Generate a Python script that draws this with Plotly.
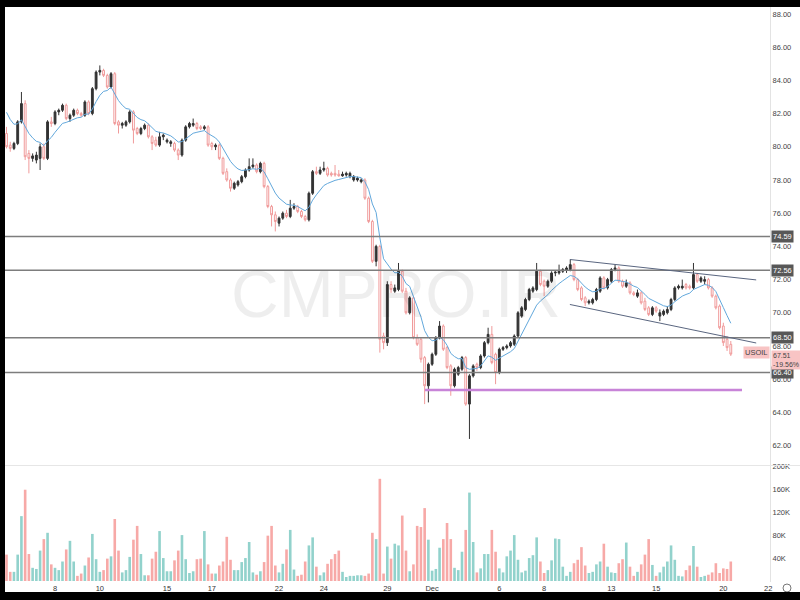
import plotly.graph_objects as go

# ---------------- data (4h bars, USOIL, Nov 3 - Dec 20) ----------------
opens = [80.8, 80.1, 79.9, 80.2, 81.5, 82.6, 79.6, 79.3, 79.2, 79.3,
         80.0, 79.3, 81.5, 81.4, 82.1, 82.2, 82.5, 81.7, 81.9, 82.2,
         82.0, 81.9, 82.7, 82.0, 83.5, 84.5, 84.6, 84.3, 83.6, 84.4,
         81.5, 81.3, 81.3, 81.5, 82.1, 81.1, 80.8, 81.1, 81.3, 80.6,
         80.4, 80.1, 80.6, 80.3, 80.2, 80.2, 79.8, 79.5, 80.4, 81.2,
         81.3, 81.4, 81.2, 81.1, 81.2, 80.2, 80.0, 80.1, 79.3, 78.5,
         78.0, 77.5, 77.7, 77.9, 78.2, 78.6, 78.8, 78.9, 78.5, 79.0,
         77.6, 76.4, 75.9, 75.4, 75.7, 76.0, 75.8, 76.3, 76.4, 76.1,
         75.8, 75.6, 77.2, 78.5, 78.4, 78.6, 78.7, 78.4, 78.4, 78.35,
         78.25, 78.3, 78.2, 78.0, 78.0, 77.9, 78.0, 76.9, 75.5, 73.1,
         74.0, 68.6, 68.2, 71.7, 71.3, 71.4, 72.5, 71.3, 70.0, 70.9,
         68.5, 68.4, 67.3, 65.6, 66.9, 67.5, 68.5, 69.2, 67.9, 66.8,
         65.6, 66.3, 66.6, 67.3, 64.5, 66.2, 66.9, 66.7, 67.4, 68.2,
         68.7, 67.5, 66.4, 67.8, 67.9, 68.0, 68.1, 68.6, 69.8, 70.2,
         70.8, 71.3, 71.4, 72.5, 71.9, 71.6, 71.9, 72.4, 72.4, 72.5,
         72.55, 72.6, 72.9, 72.0, 71.5, 70.9, 70.6, 70.6, 70.8, 71.3,
         72.1, 71.5, 71.9, 72.6, 72.7, 71.9, 71.6, 71.8, 71.2, 71.0,
         71.2, 70.7, 70.3, 69.9, 70.3, 69.8, 69.9, 70.0, 70.2, 70.8,
         71.5, 71.5, 71.7, 71.6, 71.5, 72.3, 71.9, 71.9, 72.0, 71.5,
         71.0, 70.4, 69.2, 68.4, 68.1]
highs = [81.2, 80.3, 80.3, 81.6, 83.3, 82.8, 79.8, 79.6, 79.7, 80.2,
         80.2, 81.6, 81.8, 82.2, 82.3, 82.6, 82.6, 82.0, 82.3, 82.3,
         82.1, 82.8, 82.8, 83.6, 84.6, 84.9, 84.7, 84.4, 84.5, 84.5,
         81.6, 81.5, 81.6, 82.2, 82.2, 81.2, 81.2, 81.4, 81.4, 80.7,
         80.6, 80.9, 80.8, 80.5, 80.4, 80.3, 79.9, 80.5, 81.3, 81.5,
         81.7, 81.5, 81.3, 81.3, 81.3, 80.3, 80.2, 80.2, 79.4, 78.7,
         78.1, 77.9, 78.0, 78.3, 78.7, 79.3, 79.3, 79.0, 79.1, 79.1,
         77.7, 76.5, 76.1, 75.8, 76.1, 76.2, 76.8, 76.6, 76.5, 76.2,
         75.9, 77.3, 78.6, 78.8, 78.8, 79.1, 78.8, 78.5, 78.9, 78.6,
         78.5, 78.5, 78.5, 78.3, 78.2, 78.1, 78.1, 77.0, 75.6, 74.1,
         74.1, 68.8, 71.9, 71.9, 71.7, 73.0, 72.6, 71.5, 71.0, 71.0,
         68.7, 68.5, 67.4, 67.0, 67.6, 68.6, 69.5, 69.3, 68.0, 66.9,
         66.7, 66.8, 67.4, 67.4, 66.3, 66.9, 67.0, 67.5, 68.3, 69.1,
         69.2, 67.6, 67.9, 68.0, 68.1, 68.3, 68.7, 70.1, 70.4, 70.9,
         71.5, 71.6, 73.0, 72.6, 72.0, 72.0, 72.5, 72.5, 72.9, 72.7,
         72.8, 73.2, 73.0, 72.1, 71.6, 71.0, 70.8, 70.9, 71.5, 72.2,
         72.2, 72.1, 72.7, 72.9, 72.8, 72.0, 72.0, 71.9, 71.3, 71.4,
         71.3, 70.9, 70.4, 70.4, 70.4, 70.2, 70.2, 70.4, 70.9, 71.6,
         71.7, 72.0, 71.8, 71.7, 73.0, 72.4, 72.2, 72.2, 72.1, 71.6,
         71.1, 70.5, 69.4, 68.6, 68.3]
lows = [79.9, 79.7, 79.8, 80.1, 81.4, 79.2, 78.4, 79.1, 79.0, 78.6,
        79.2, 79.2, 81.2, 81.3, 81.9, 82.1, 81.6, 81.5, 81.8, 81.9,
        81.8, 81.8, 81.9, 81.9, 83.4, 84.3, 84.2, 83.5, 83.5, 81.3,
        80.8, 81.1, 81.2, 81.4, 80.2, 80.7, 80.7, 81.0, 80.5, 79.8,
        80.0, 80.0, 80.4, 80.2, 80.0, 79.7, 79.2, 79.4, 80.3, 81.1,
        81.2, 81.0, 81.0, 81.0, 80.0, 79.8, 79.8, 79.2, 78.3, 77.9,
        77.3, 77.4, 77.6, 77.8, 78.1, 78.5, 78.7, 78.4, 78.4, 77.5,
        76.3, 75.2, 74.9, 75.2, 75.6, 75.7, 75.7, 76.2, 76.0, 75.7,
        75.5, 75.5, 77.1, 78.3, 78.3, 78.5, 78.2, 78.2, 78.2, 78.2,
        78.2, 78.2, 78.1, 77.9, 77.9, 77.8, 76.8, 75.4, 73.0, 72.8,
        67.6, 67.8, 68.0, 71.2, 71.2, 71.3, 71.2, 69.9, 69.9, 68.4,
        68.0, 67.0, 64.5, 64.6, 66.8, 67.4, 68.4, 67.7, 66.6, 65.0,
        65.5, 66.2, 66.5, 64.4, 62.4, 66.1, 66.5, 66.6, 67.3, 68.1,
        66.9, 65.7, 66.3, 67.7, 67.8, 67.9, 68.0, 68.5, 69.7, 70.1,
        70.7, 71.2, 71.3, 71.6, 71.0, 71.5, 71.8, 72.2, 72.3, 72.4,
        72.4, 72.5, 71.9, 71.3, 70.7, 70.4, 70.5, 70.5, 70.7, 71.2,
        71.4, 71.4, 71.8, 72.5, 71.8, 71.5, 71.5, 71.1, 71.0, 70.9,
        70.5, 70.1, 69.8, 69.8, 70.0, 69.5, 69.8, 69.9, 70.1, 70.7,
        71.4, 71.4, 71.4, 71.4, 71.4, 71.8, 71.8, 71.7, 71.4, 70.9,
        70.2, 69.0, 68.0, 67.7, 67.4]
closes = [80.0, 79.9, 80.2, 81.5, 82.6, 79.4, 79.3, 79.45, 79.5, 80.0,
          79.3, 81.5, 81.4, 82.1, 82.2, 82.5, 81.7, 81.9, 82.2, 82.0,
          81.9, 82.7, 82.0, 83.5, 84.5, 84.6, 84.3, 83.6, 84.4, 81.4,
          81.3, 81.4, 81.5, 82.1, 81.0, 80.8, 81.1, 81.3, 80.6, 80.2,
          80.1, 80.6, 80.7, 80.4, 80.3, 79.8, 79.5, 80.4, 81.2, 81.4,
          81.4, 81.1, 81.1, 81.2, 80.1, 80.0, 80.1, 79.3, 78.4, 78.0,
          77.5, 77.8, 77.9, 78.2, 78.6, 78.8, 78.9, 78.5, 79.0, 77.6,
          76.4, 75.9, 75.5, 75.7, 76.0, 75.8, 76.3, 76.4, 76.1, 75.8,
          75.6, 77.2, 78.5, 78.4, 78.6, 78.7, 78.3, 78.3, 78.3, 78.25,
          78.35, 78.4, 78.4, 78.2, 78.1, 78.0, 76.9, 75.5, 73.1, 74.0,
          68.4, 68.2, 71.7, 71.4, 71.5, 72.5, 71.3, 70.0, 70.9, 68.5,
          68.1, 67.2, 65.6, 66.9, 67.5, 68.5, 69.2, 67.8, 66.7, 65.6,
          66.6, 66.7, 67.3, 64.5, 66.2, 66.8, 66.7, 67.4, 68.2, 68.7,
          67.0, 66.4, 67.8, 67.9, 68.0, 68.2, 68.6, 70.0, 70.3, 70.8,
          71.4, 71.5, 72.5, 71.7, 71.6, 71.9, 72.4, 72.45, 72.5, 72.6,
          72.7, 72.9, 72.0, 71.4, 70.8, 70.6, 70.7, 70.8, 71.4, 72.1,
          71.5, 72.0, 72.6, 72.7, 71.9, 71.6, 71.8, 71.2, 71.1, 71.2,
          70.6, 70.2, 69.9, 70.3, 70.1, 70.0, 70.1, 70.2, 70.8, 71.5,
          71.6, 71.6, 71.5, 71.5, 72.3, 71.9, 72.1, 72.0, 71.5, 71.0,
          70.3, 69.1, 68.2, 67.9, 67.51]
volumes_k = [46, 16, 16, 46, 113, 159, 47, 23, 21, 53,
             73, 84, 29, 23, 19, 34, 55, 70, 34, 9,
             13, 27, 41, 82, 38, 16, 19, 39, 43, 108,
             53, 15, 19, 42, 72, 96, 47, 10, 10, 39,
             51, 87, 40, 17, 17, 36, 53, 80, 38, 14,
             17, 38, 39, 87, 29, 13, 13, 27, 34, 77,
             37, 19, 19, 33, 40, 68, 15, 11, 17, 33,
             79, 96, 27, 15, 30, 55, 89, 20, 9, 11,
             34, 62, 76, 25, 10, 15, 30, 38, 47, 53,
             16, 7, 9, 9, 10, 10, 9, 13, 84, 73,
             178, 13, 60, 39, 65, 62, 114, 53, 17, 29,
             96, 94, 127, 72, 18, 21, 58, 73, 101, 73,
             23, 19, 51, 89, 154, 68, 15, 22, 47, 47,
             89, 51, 22, 15, 43, 53, 80, 37, 15, 18,
             40, 45, 76, 34, 14, 19, 36, 74, 73, 25,
             9, 16, 31, 37, 59, 27, 14, 16, 29, 34,
             65, 25, 15, 14, 31, 38, 67, 25, 9, 16,
             29, 46, 73, 28, 9, 15, 25, 34, 62, 37,
             9, 8, 19, 27, 61, 25, 7, 9, 11, 15,
             31, 14, 22, 21, 34]

# day-start bar positions and their labels
tick_pos = [13, 25, 43, 55, 73, 85, 102, 114, 132, 144, 162, 174, 192, 204]
tick_labels = ["8", "10", "15", "17", "22", "24", "29", "Dec", "6", "8", "13", "15", "20", "22"]

price_ticks = [62, 64, 66, 68, 70, 72, 74, 76, 78, 80, 82, 84, 86, 88]
vol_ticks = [40, 80, 120, 160, 200]

levels = [74.59, 72.56, 68.50, 66.40]
channel_upper = [(150.9, 73.21), (200.8, 71.98)]
channel_lower = [(150.9, 70.50), (200.8, 68.18)]
support_line = {"start": 112.1, "end": 197.0, "price": 65.35}

symbol = "USOIL"
last_change = "-19.56%"
ma_period = 9
ma_seed = 82.6

# ---------------- derived ----------------
idx = list(range(len(closes)))
ma = []
prev = ma_seed
alpha = 2.0 / (ma_period + 1)
for c in closes:
    prev = prev + alpha * (c - prev)
    ma.append(prev)

UP_VOL = "#92d2cc"
DN_VOL = "#f7a9a7"
vol_colors = [UP_VOL if c >= o else DN_VOL for o, c in zip(opens, closes)]

XD = [5 / 800, 770 / 800]
X_RANGE = [-0.4, 204.5]
FONT = "Liberation Sans, Arial, sans-serif"

fig = go.Figure()
fig.add_trace(go.Candlestick(
    x=idx, open=opens, high=highs, low=lows, close=closes,
    increasing=dict(line=dict(color="#333333", width=1), fillcolor="#333333"),
    decreasing=dict(line=dict(color="#f09a9a", width=1), fillcolor="#ffffff"),
    whiskerwidth=0, xaxis="x", yaxis="y", hoverinfo="skip"))
fig.add_trace(go.Scatter(x=idx, y=ma, mode="lines",
                         line=dict(color="#62a8dc", width=1),
                         xaxis="x", yaxis="y", hoverinfo="skip"))
fig.add_trace(go.Bar(x=idx, y=volumes_k, marker=dict(color=vol_colors, line=dict(width=0)),
                     xaxis="x2", yaxis="y2", hoverinfo="skip"))

shapes = []
for lv in levels:
    shapes.append(dict(type="line", xref="paper", yref="y", x0=XD[0], x1=XD[1], y0=lv, y1=lv,
                       line=dict(color="#7d7d7d", width=1.5)))
for seg in (channel_upper, channel_lower):
    shapes.append(dict(type="line", xref="x", yref="y", x0=seg[0][0], y0=seg[0][1],
                       x1=seg[1][0], y1=seg[1][1], line=dict(color="#5a6680", width=1)))
shapes.append(dict(type="line", xref="x", yref="y", x0=support_line["start"], x1=support_line["end"],
                   y0=support_line["price"], y1=support_line["price"],
                   line=dict(color="#c884d8", width=2.5)))
shapes.append(dict(type="line", xref="paper", yref="paper", x0=XD[0], x1=1,
                   y0=1 - 465.5 / 600, y1=1 - 465.5 / 600, line=dict(color="#e6e6e6", width=1)))
shapes.append(dict(type="circle", xref="paper", yref="paper", x0=783 / 800, x1=791 / 800,
                   y0=1 - 592 / 600, y1=1 - 584 / 600, line=dict(color="#777", width=1)))
for x0, x1, y0, y1 in [(0, 1, 1 - 7 / 600, 1), (0, 5 / 800, 0, 1), (0, 1, 0, 8 / 600)]:
    shapes.append(dict(type="rect", xref="paper", yref="paper", x0=x0, x1=x1, y0=y0, y1=y1,
                       fillcolor="#000000", line=dict(width=0), layer="above"))

annotations = []
annotations.append(dict(text="CMPRO.IR", xref="paper", yref="paper", x=396 / 800, y=1 - 294 / 600,
                        showarrow=False, xanchor="center", yanchor="middle",
                        font=dict(size=66, color="rgba(0,0,0,0.065)",
                                  family="Liberation Sans Narrow, Liberation Sans, Arial, sans-serif")))
for lv in levels:
    annotations.append(dict(text=f"{lv:.2f}", xref="paper", yref="y", x=771 / 800, y=lv,
                            xanchor="left", yanchor="middle", showarrow=False,
                            bgcolor="#575757", borderpad=1,
                            font=dict(size=7.5, color="#ffffff", family=FONT)))
annotations.append(dict(text=symbol, xref="paper", yref="y", x=770 / 800, y=closes[-1] + 0.1,
                        xanchor="right", yanchor="middle", showarrow=False,
                        bgcolor="#f8c4c4", borderpad=1,
                        font=dict(size=7.5, color="#444", family=FONT)))
annotations.append(dict(text=f"{closes[-1]:.2f}<br>{last_change}", xref="paper", yref="y",
                        x=771 / 800, y=closes[-1] + 0.25, xanchor="left", yanchor="top",
                        showarrow=False, bgcolor="#f8c4c4", borderpad=1, align="left",
                        font=dict(size=7, color="#444", family=FONT)))

fig.update_layout(
    width=800, height=600, margin=dict(l=0, r=0, t=0, b=0, autoexpand=False),
    paper_bgcolor="#ffffff", plot_bgcolor="#ffffff", showlegend=False,
    bargap=0.3,
    xaxis=dict(domain=XD, range=X_RANGE, anchor="y", showticklabels=False, showgrid=False,
               zeroline=False, rangeslider=dict(visible=False), fixedrange=True, automargin=False),
    xaxis2=dict(domain=XD, range=X_RANGE, anchor="y2", matches="x", showgrid=False, zeroline=False,
                tickvals=tick_pos, ticktext=tick_labels, ticks="", automargin=False,
                tickfont=dict(size=7.5, color="#333", family=FONT)),
    yaxis=dict(domain=[1 - 465 / 600, 1 - 7 / 600], range=[60.83, 88.42], side="right",
               anchor="x", showgrid=False, zeroline=False, showline=True, linecolor="#e3e3e3",
               tickvals=price_ticks, ticktext=[f"{t:.2f}" for t in price_ticks], ticks="",
               automargin=False, tickfont=dict(size=7.5, color="#444", family=FONT)),
    yaxis2=dict(domain=[1 - 582 / 600, 1 - 466 / 600], range=[-1.7, 200.3], side="right",
                anchor="x2", showgrid=False, zeroline=False, showline=True, linecolor="#e3e3e3",
                tickvals=vol_ticks, ticktext=[f"{t}K" for t in vol_ticks], ticks="",
                automargin=False, tickfont=dict(size=7.5, color="#444", family=FONT)),
    shapes=shapes, annotations=annotations,
)

fig.write_html("out.html", config={"displayModeBar": False},
               post_script="document.body.style.margin='0';document.body.style.padding='0';")
